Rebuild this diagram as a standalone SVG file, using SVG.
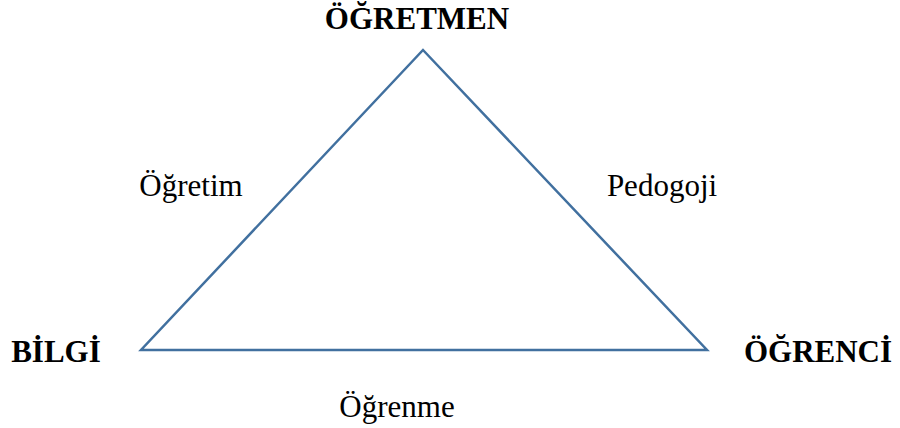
<svg xmlns="http://www.w3.org/2000/svg" width="900" height="428" viewBox="0 0 900 428">
<style>
.lbl{font-family:"Liberation Serif","Times New Roman",serif;font-size:31px;fill:#000}
.b{font-weight:bold}
.edge{fill:none;stroke:#41709f;stroke-width:2.5;stroke-linejoin:miter}
</style>
<rect width="900" height="428" fill="#fff"/>
<g id="connectors">
<path class="edge" d="M423,50 L707,350 L141,350 Z"/>
</g>
<g id="ogretmen"><text class="lbl b" x="417" y="29" text-anchor="middle">ÖĞRETMEN</text></g>
<g id="bilgi"><text class="lbl b" x="56" y="362" text-anchor="middle">BİLGİ</text></g>
<g id="ogrenci"><text class="lbl b" x="818" y="362" text-anchor="middle">ÖĞRENCİ</text></g>
<g id="ogretim"><text class="lbl" x="191" y="196" text-anchor="middle">Öğretim</text></g>
<g id="pedogoji"><text class="lbl" x="662" y="196" text-anchor="middle">Pedogoji</text></g>
<g id="ogrenme"><text class="lbl" x="397" y="417" text-anchor="middle">Öğrenme</text></g>
</svg>
